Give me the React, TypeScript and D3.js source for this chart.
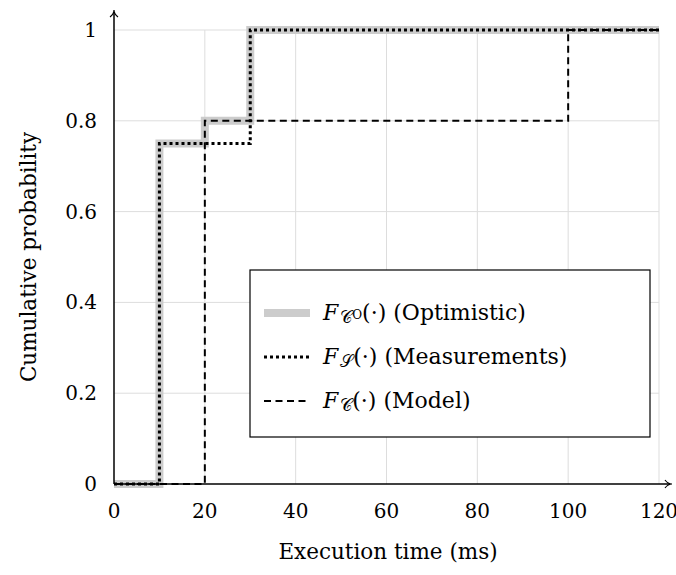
import React from 'react'
import * as d3 from 'd3'

// step CDFs: [time ms, probability]
const optimistic: [number, number][] = [[0, 0], [10, 0], [10, 0.75], [20, 0.75], [20, 0.8], [30, 0.8], [30, 1], [120, 1]]
const measurements: [number, number][] = [[0, 0], [10, 0], [10, 0.75], [30, 0.75], [30, 1], [120, 1]]
const model: [number, number][] = [[0, 0], [20, 0], [20, 0.8], [100, 0.8], [100, 1], [120, 1]]

const xTicks = [0, 20, 40, 60, 80, 100, 120]
const yTicks = [0, 0.2, 0.4, 0.6, 0.8, 1]
const legendItems = [
  {sub: '𝒞', sup: 'O', label: '(Optimistic)', kind: 'opt'},
  {sub: '𝒮', sup: '', label: '(Measurements)', kind: 'meas'},
  {sub: '𝒞', sup: '', label: '(Model)', kind: 'model'},
]

const font = '"DejaVu Serif", "Liberation Serif", serif'

export default function App() {
  const width = 676, height = 575
  const x = d3.scaleLinear().domain([0, 120]).range([114, 659])
  const y = d3.scaleLinear().domain([0, 1]).range([484, 30])
  const line = d3.line<[number, number]>().x(d => x(d[0])).y(d => y(d[1]))

  const styles: Record<string, any> = {
    opt: {stroke: '#cccccc', strokeWidth: 8, strokeDasharray: undefined},
    meas: {stroke: '#000', strokeWidth: 3, strokeDasharray: '3 3'},
    model: {stroke: '#000', strokeWidth: 2, strokeDasharray: '7 4.5'},
  }

  return (
    <svg width={width} height={height} style={{position: 'absolute', left: 0, top: 0}} fontFamily={font}>
      {/* grid */}
      {xTicks.filter(t => t > 0).map(t => (
        <line key={'gx' + t} x1={x(t)} x2={x(t)} y1={y(0)} y2={y(1)} stroke="#dddddd" strokeWidth={1} />
      ))}
      {yTicks.filter(t => t > 0).map(t => (
        <line key={'gy' + t} x1={x(0)} x2={x(120)} y1={y(t)} y2={y(t)} stroke="#dddddd" strokeWidth={1} />
      ))}

      {/* curves */}
      <path d={line(optimistic) || ''} fill="none" {...styles.opt} />
      <path d={line(model) || ''} fill="none" {...styles.model} />
      <path d={line(measurements) || ''} fill="none" {...styles.meas} />

      {/* axes */}
      <line x1={x(0)} x2={670} y1={y(0)} y2={y(0)} stroke="#000" strokeWidth={1.5} />
      <path d={`M665,${y(0) - 4} Q668,${y(0)} 672,${y(0)} Q668,${y(0)} 665,${y(0) + 4}`} fill="none" stroke="#000" strokeWidth={1.2} />
      <line x1={x(0)} x2={x(0)} y1={y(0)} y2={12} stroke="#000" strokeWidth={1.5} />
      <path d={`M${x(0) - 4},17 Q${x(0)},14 ${x(0)},10 Q${x(0)},14 ${x(0) + 4},17`} fill="none" stroke="#000" strokeWidth={1.2} />

      {xTicks.map(t => (
        <text key={'xt' + t} x={x(t)} y={y(0) + 34} textAnchor="middle" fontSize={20}>{t}</text>
      ))}
      {yTicks.map(t => (
        <text key={'yt' + t} x={97} y={y(t) + 7} textAnchor="end" fontSize={20}>{t}</text>
      ))}

      <text x={388} y={559} textAnchor="middle" fontSize={21.5}>Execution time (ms)</text>
      <text transform={`translate(36,257) rotate(-90)`} textAnchor="middle" fontSize={21.5}>Cumulative probability</text>

      {/* legend */}
      <rect x={250} y={270} width={400} height={167} fill="#fff" stroke="#000" strokeWidth={1.2} />
      {legendItems.map((it, i) => {
        const ly = 313 + i * 44
        return (
          <g key={it.kind}>
            <line x1={264} x2={310} y1={ly} y2={ly} fill="none" {...styles[it.kind]} />
            <text x={323} y={ly + 7} fontSize={22}>
              <tspan fontStyle="italic">F</tspan>
              <tspan fontSize={17} dx={2} dy={3}>{it.sub}</tspan>
              {it.sup ? <tspan fontSize={12} dy={-4}>{it.sup}</tspan> : null}
              <tspan fontSize={22} dy={it.sup ? 1 : -3}>(·) {it.label}</tspan>
            </text>
          </g>
        )
      })}
    </svg>
  )
}
